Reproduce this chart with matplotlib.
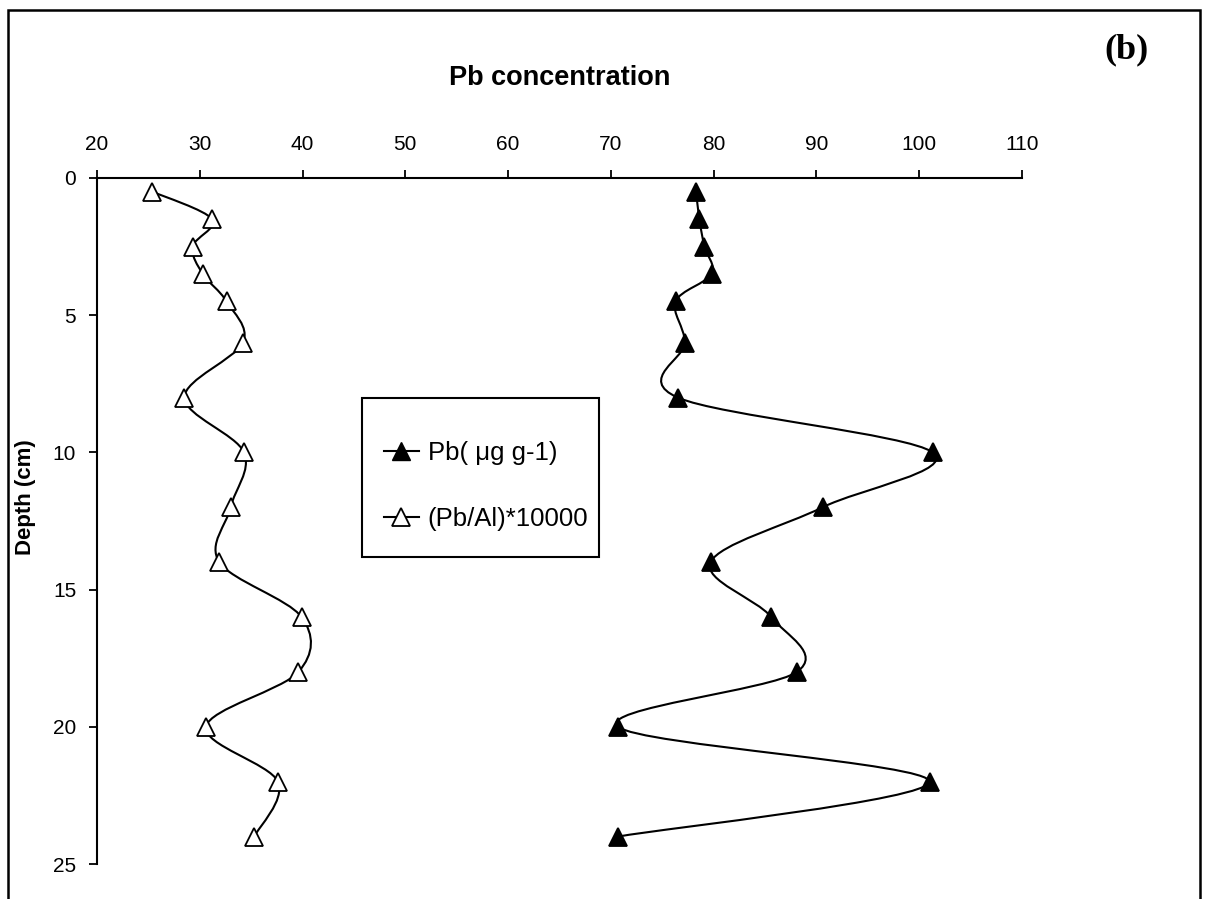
import matplotlib
matplotlib.use("Agg")
import matplotlib.pyplot as plt
from matplotlib.path import Path
from matplotlib.patches import PathPatch, Rectangle
from matplotlib.lines import Line2D

plt.rcParams['font.family'] = ['Liberation Sans', 'DejaVu Sans']

# Data
depth = [0.5, 1.5, 2.5, 3.5, 4.5, 6, 8, 10, 12, 14, 16, 18, 20, 22, 24]
pb_conc = [78.3, 78.6, 79.1, 79.8, 76.3, 77.2, 76.5, 101.3, 90.6, 79.7, 85.6, 88.1, 70.7, 101.0, 70.7]
pb_al = [25.4, 31.2, 29.3, 30.3, 32.6, 34.2, 28.5, 34.3, 33.0, 31.9, 39.9, 39.6, 30.6, 37.6, 35.3]
x_ticks = [20, 30, 40, 50, 60, 70, 80, 90, 100, 110]
y_ticks = [0, 5, 10, 15, 20, 25]
labels = ['Pb( \u03bcg g-1)', '(Pb/Al)*10000']


def smooth_path(xs, ys):
    pts = list(zip(xs, ys))
    n = len(pts)
    verts = [pts[0]]
    codes = [Path.MOVETO]
    for i in range(n - 1):
        p0 = pts[i - 1] if i > 0 else pts[i]
        p1 = pts[i]
        p2 = pts[i + 1]
        p3 = pts[i + 2] if i + 2 < n else pts[i + 1]
        c1 = (p1[0] + (p2[0] - p0[0]) / 6.0, p1[1] + (p2[1] - p0[1]) / 6.0)
        c2 = (p2[0] - (p3[0] - p1[0]) / 6.0, p2[1] - (p3[1] - p1[1]) / 6.0)
        verts += [c1, c2, p2]
        codes += [Path.CURVE4, Path.CURVE4, Path.CURVE4]
    return Path(verts, codes)


W, H = 1205, 899
fig = plt.figure(figsize=(W / 100, H / 100), dpi=100)
ax = fig.add_axes([97 / W, 1 - 864 / H, (1022 - 97) / W, (864 - 178) / H])

for xs, fc in ((pb_conc, 'black'), (pb_al, 'white')):
    ax.add_patch(PathPatch(smooth_path(xs, depth), fill=False, lw=1.5,
                           edgecolor='black', zorder=2))
    ax.plot(xs, depth, linestyle='none', marker='^', markersize=13,
            markerfacecolor=fc, markeredgecolor='black', markeredgewidth=1.3,
            zorder=3)

ax.set_xlim(20, 110)
ax.set_ylim(25, 0)
ax.xaxis.tick_top()
ax.xaxis.set_label_position('top')
ax.set_xticks(x_ticks)
ax.set_yticks(y_ticks)
ax.tick_params(axis='both', direction='out', length=6, width=1.3,
               labelsize=15)
ax.tick_params(axis='x', pad=11)
ax.tick_params(axis='y', pad=9)
ax.spines['right'].set_visible(False)
ax.spines['bottom'].set_visible(False)
for s in ('left', 'top'):
    ax.spines[s].set_linewidth(1.5)

ax.set_xlabel('Pb concentration', fontsize=19.5, fontweight='bold')
ax.xaxis.set_label_coords(0.5, 1 + (178 - 78) / 686)
ax.xaxis.label.set_va('center')
ax.set_ylabel('Depth (cm)', fontsize=16, fontweight='bold')
ax.yaxis.set_label_coords((26 - 97) / 925, 1 - (497 - 178) / 686)
ax.yaxis.label.set_va('center')

handles = [
    Line2D([], [], color='black', lw=1.5, marker='^', markersize=13,
           markerfacecolor='black', markeredgecolor='black'),
    Line2D([], [], color='black', lw=1.5, marker='^', markersize=13,
           markerfacecolor='white', markeredgecolor='black', markeredgewidth=1.3),
]
leg = fig.legend(handles, labels, loc='upper left',
                 bbox_to_anchor=(384 / W, 1 - 441 / H),
                 fontsize=18.5, frameon=False,
                 borderpad=0, labelspacing=1.65, handlelength=1.35,
                 handletextpad=0.35, borderaxespad=0)

fig.patches.append(Rectangle((362 / W, 1 - 557 / H), (599 - 362) / W, (557 - 398) / H,
                             transform=fig.transFigure, fill=False,
                             edgecolor='black', linewidth=1.5))

fig.text(1126 / W, 1 - 50 / H, '(b)', family=['Liberation Serif', 'DejaVu Serif'],
         fontsize=26, fontweight='bold', ha='center', va='center')

fig.patches.append(Rectangle((8 / W, -0.05), (1200 - 8) / W, 1.05 - 10 / H,
                             transform=fig.transFigure, fill=False,
                             edgecolor='black', linewidth=1.8))

fig.savefig('out.png', dpi=100)
